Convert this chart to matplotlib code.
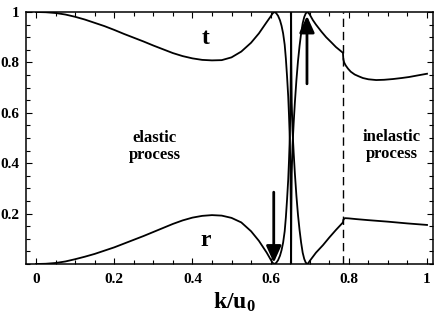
import matplotlib
matplotlib.use("Agg")
import matplotlib.pyplot as plt
from matplotlib.ticker import MultipleLocator, FixedLocator, FixedFormatter

plt.rcParams['font.family'] = ['Liberation Serif', 'DejaVu Serif']
plt.rcParams['font.weight'] = 'bold'
plt.rcParams['mathtext.fontset'] = 'custom'
plt.rcParams['mathtext.rm'] = 'Liberation Serif:bold'
plt.rcParams['mathtext.bf'] = 'Liberation Serif:bold'
plt.rcParams['mathtext.it'] = 'Liberation Serif:bold'

# ---- data ----
k_t = [0.000, 0.025, 0.050, 0.075, 0.100, 0.125, 0.150, 0.175, 0.200, 0.225,
       0.250, 0.275, 0.300, 0.325, 0.350, 0.375, 0.400, 0.425, 0.450, 0.475,
       0.500, 0.525, 0.550, 0.570, 0.590, 0.600, 0.605, 0.609,
       0.614, 0.619, 0.624, 0.628, 0.632, 0.636, 0.639, 0.642, 0.645, 0.647,
       0.649, 0.650, 0.651, 0.652, 0.6525, 0.653, 0.654, 0.656, 0.659, 0.662,
       0.666, 0.670, 0.674, 0.678, 0.682, 0.686, 0.690, 0.695,
       0.700, 0.708, 0.716, 0.730, 0.742, 0.755, 0.767,
       0.785, 0.786, 0.788, 0.792, 0.798, 0.805, 0.815, 0.825, 0.836, 0.850,
       0.870, 0.890, 0.913, 0.935, 0.954, 0.975, 1.000]
t_val = [1.000, 0.999, 0.996, 0.990, 0.981, 0.970, 0.957, 0.944, 0.929, 0.913,
         0.898, 0.883, 0.867, 0.852, 0.837, 0.825, 0.816, 0.810, 0.808, 0.809,
         0.820, 0.843, 0.878, 0.915, 0.960, 0.982, 0.994, 1.000,
         0.996, 0.985, 0.967, 0.945, 0.915, 0.870, 0.815, 0.745, 0.665, 0.590,
         0.500, 0.430, 0.330, 0.150, 0.000, 0.200, 0.360, 0.470, 0.560, 0.640,
         0.730, 0.805, 0.865, 0.915, 0.955, 0.980, 0.995, 1.000,
         0.990, 0.968, 0.950, 0.922, 0.900, 0.880, 0.861,
         0.838, 0.812, 0.800, 0.788, 0.775, 0.763, 0.752, 0.745, 0.738, 0.733,
         0.730, 0.731, 0.734, 0.738, 0.742, 0.748, 0.755]

k_r = [0.000, 0.025, 0.050, 0.075, 0.100, 0.125, 0.150, 0.175, 0.200, 0.225,
       0.250, 0.275, 0.300, 0.325, 0.350, 0.375, 0.400, 0.425, 0.450, 0.475,
       0.500, 0.525, 0.550, 0.570, 0.590, 0.600, 0.605, 0.609,
       0.614, 0.619, 0.624, 0.628, 0.632, 0.636, 0.639, 0.642, 0.645, 0.647,
       0.649, 0.650, 0.651, 0.652, 0.6525, 0.653, 0.654, 0.656, 0.659, 0.662,
       0.666, 0.670, 0.674, 0.678, 0.682, 0.686, 0.690, 0.695,
       0.700, 0.716, 0.734, 0.750, 0.767, 0.785,
       0.786, 0.790, 0.800, 0.820, 0.850, 0.900, 0.950, 1.000]
r_val = [0.000, 0.001, 0.004, 0.010, 0.019, 0.029, 0.040, 0.053, 0.066, 0.081,
         0.096, 0.111, 0.127, 0.143, 0.159, 0.173, 0.184, 0.191, 0.194, 0.192,
         0.183, 0.165, 0.130, 0.092, 0.045, 0.018, 0.005, 0.000,
         0.004, 0.015, 0.033, 0.055, 0.085, 0.130, 0.185, 0.255, 0.335, 0.410,
         0.500, 0.570, 0.670, 0.850, 1.000, 0.800, 0.640, 0.530, 0.440, 0.360,
         0.270, 0.195, 0.135, 0.085, 0.045, 0.020, 0.005, 0.000,
         0.012, 0.045, 0.075, 0.105, 0.135, 0.165,
         0.176, 0.182, 0.181, 0.178, 0.174, 0.168, 0.161, 0.155]

threshold_k = 0.785
x_ticks = [0, 0.2, 0.4, 0.6, 0.8, 1.0]
x_tick_labels = ['0', '0.2', '0.4', '0.6', '0.8', '1']
y_ticks = [0.2, 0.4, 0.6, 0.8, 1.0]
y_tick_labels = ['0.2', '0.4', '0.6', '0.8', '1']

fig = plt.figure(figsize=(4.36, 3.19), dpi=100)
ax = fig.add_axes([26/436, 55/319, 407/436, 252/319])

ax.plot(k_t, t_val, color='black', lw=1.3)
ax.plot(k_r, r_val, color='black', lw=1.3)
ax.axvline(threshold_k, color='black', lw=1.0, linestyle=(0, (6, 3.5)))

ax.set_xlim(-0.0256, 1.0153)
ax.set_ylim(0, 1)

ax.xaxis.set_major_locator(FixedLocator(x_ticks))
ax.xaxis.set_major_formatter(FixedFormatter(x_tick_labels))
ax.yaxis.set_major_locator(FixedLocator(y_ticks))
ax.yaxis.set_major_formatter(FixedFormatter(y_tick_labels))
ax.xaxis.set_minor_locator(MultipleLocator(0.05))
ax.yaxis.set_minor_locator(MultipleLocator(0.05))
ax.tick_params(which='both', direction='in', top=True, right=True, width=0.8)
ax.tick_params(which='major', length=4.5)
ax.tick_params(which='minor', length=3)
ax.tick_params(axis='x', which='major', pad=6.5, labelsize=11)
ax.tick_params(axis='y', which='major', pad=5, labelsize=11)
for lab in ax.get_xticklabels() + ax.get_yticklabels():
    lab.set_fontweight('bold')
for s in ax.spines.values():
    s.set_linewidth(1.1)

ax.set_xlabel(r'$\mathbf{k/u_0}$', fontsize=17)
ax.xaxis.set_label_coords(0.511, -0.105)

ax.text(0.435, 0.895, 't', fontsize=17, fontweight='bold', ha='center', va='center')
ax.text(0.435, 0.095, 'r', fontsize=17, fontweight='bold', ha='center', va='center')
ax.text(0.304, 0.467, 'elastic\nprocess', fontsize=12, fontweight='bold',
        ha='center', va='center', linespacing=1.05)
ax.text(0.91, 0.47, 'inelastic\nprocess', fontsize=12, fontweight='bold',
        ha='center', va='center', linespacing=1.05)

arrow = dict(arrowstyle='-|>,head_length=1.0,head_width=0.45', lw=2.0,
             color='black', shrinkA=0, shrinkB=0)
ax.annotate('', xy=(0.608, 0.005), xytext=(0.608, 0.285), arrowprops=arrow)
ax.annotate('', xy=(0.693, 0.985), xytext=(0.693, 0.715), arrowprops=arrow)

fig.savefig('out.png', dpi=100)
